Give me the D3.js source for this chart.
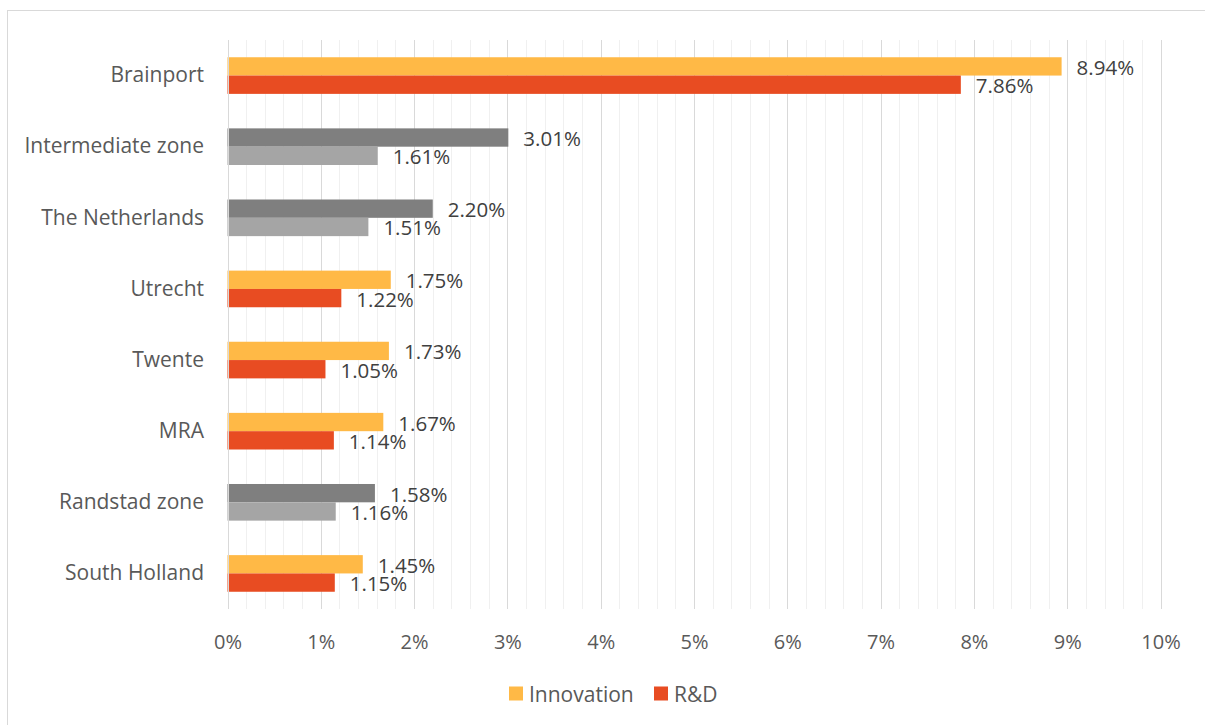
<!DOCTYPE html>
<html>
<head>
<meta charset="utf-8">
<script src="https://cdn.jsdelivr.net/npm/d3@7"></script>
<style>
  html, body { margin: 0; padding: 0; background: #fff; }
  svg { display: block; }
  text { font-family: "Open Sans", "Noto Sans", sans-serif; }
</style>
</head>
<body>
<svg id="chart" width="1205" height="725"></svg>
<script>
// Regions, top to bottom
const categories = ["Brainport", "Intermediate zone", "The Netherlands", "Utrecht",
                    "Twente", "MRA", "Randstad zone", "South Holland"];
// Share of firms (%) per region
const innovation = [8.94, 3.01, 2.20, 1.75, 1.73, 1.67, 1.58, 1.45];
const rnd        = [7.86, 1.61, 1.51, 1.22, 1.05, 1.14, 1.16, 1.15];
// Aggregate zones drawn in grey
const greyRegions = ["Intermediate zone", "The Netherlands", "Randstad zone"];
const seriesNames = ["Innovation", "R&D"];
const xTicks = [0, 1, 2, 3, 4, 5, 6, 7, 8, 9, 10];

const colors = {
  "Innovation": "#FFB946",
  "R&D": "#E84C22",
  greyInnovation: "#7F7F7F",
  greyRnd: "#A5A5A5"
};

const svg = d3.select("#chart");
const W = 1205, H = 725;
const margin = { left: 227.5, right: W - 1160.5, top: 40, bottom: H - 609 };

// Outer chart frame
svg.append("rect")
  .attr("x", 7.5).attr("y", 10.5)
  .attr("width", W + 10).attr("height", H + 10)
  .attr("fill", "none").attr("stroke", "#D9D9D9").attr("stroke-width", 1);

const x = d3.scaleLinear().domain([0, 10]).range([margin.left, W - margin.right]);
const y = d3.scaleBand().domain(categories).range([margin.top, H - margin.bottom]).paddingInner(0.485).paddingOuter(0.2425);
const sub = d3.scaleBand().domain(seriesNames).range([0, y.bandwidth()]);

const g = svg.append("g");

// Minor gridlines every 0.2%
const minor = d3.range(0, 10.001, 0.2).filter(v => Math.abs(v - Math.round(v)) > 1e-6);
g.selectAll("line.minor").data(minor).join("line")
  .attr("class", "minor")
  .attr("x1", d => Math.round(x(d)) + 0.5).attr("x2", d => Math.round(x(d)) + 0.5)
  .attr("y1", margin.top).attr("y2", H - margin.bottom)
  .attr("stroke", "#F0F0F0").attr("stroke-width", 1);

// Major gridlines at each whole percent
g.selectAll("line.major").data(xTicks).join("line")
  .attr("class", "major")
  .attr("x1", d => Math.round(x(d)) + 0.5).attr("x2", d => Math.round(x(d)) + 0.5)
  .attr("y1", margin.top).attr("y2", H - margin.bottom)
  .attr("stroke", "#D9D9D9").attr("stroke-width", 1);

const rows = categories.map((c, i) => ({ c, inn: innovation[i], rd: rnd[i], grey: greyRegions.includes(c) }));

const bars = [];
rows.forEach(r => {
  bars.push({ c: r.c, s: "Innovation", v: r.inn, fill: r.grey ? colors.greyInnovation : colors["Innovation"] });
  bars.push({ c: r.c, s: "R&D", v: r.rd, fill: r.grey ? colors.greyRnd : colors["R&D"] });
});

g.selectAll("rect.bar").data(bars).join("rect")
  .attr("class", "bar")
  .attr("x", x(0))
  .attr("y", d => y(d.c) + sub(d.s))
  .attr("width", d => x(d.v) - x(0))
  .attr("height", sub.bandwidth())
  .attr("fill", d => d.fill);

// Axis line at 0%
g.append("line")
  .attr("x1", Math.round(x(0)) + 0.5).attr("x2", Math.round(x(0)) + 0.5)
  .attr("y1", margin.top).attr("y2", H - margin.bottom)
  .attr("stroke", "#D9D9D9");

// Value labels
g.selectAll("text.val").data(bars).join("text")
  .attr("class", "val")
  .attr("x", d => x(d.v) + 15)
  .attr("y", d => y(d.c) + sub(d.s) + sub.bandwidth() / 2 + 0.5)
  .attr("dominant-baseline", "central")
  .attr("font-size", 20.5)
  .attr("fill", "#404040")
  .text(d => d.v.toFixed(2) + "%");

// Category axis
const yAxis = d3.axisLeft(y).tickSize(0).tickPadding(0);
svg.append("g")
  .attr("transform", `translate(204,0)`)
  .call(yAxis)
  .call(a => a.select(".domain").remove())
  .call(a => a.selectAll("text")
    .attr("font-size", 21)
    .attr("fill", "#595959")
    .attr("font-family", "'Open Sans', 'Noto Sans', sans-serif"));

// Percentage axis
const xAxis = d3.axisBottom(x).tickValues(xTicks).tickSize(0).tickPadding(0).tickFormat(d => d + "%");
svg.append("g")
  .attr("transform", `translate(0,641)`)
  .call(xAxis)
  .call(a => a.select(".domain").remove())
  .call(a => a.selectAll("text")
    .attr("dy", null)
    .attr("dominant-baseline", "central")
    .attr("font-size", 20)
    .attr("fill", "#595959")
    .attr("font-family", "'Open Sans', 'Noto Sans', sans-serif"));

// Legend
const legendItems = [
  { name: "Innovation", x: 509 },
  { name: "R&D", x: 654 }
];
const lg = svg.append("g");
legendItems.forEach(it => {
  lg.append("rect").attr("x", it.x).attr("y", 686.5).attr("width", 14).attr("height", 14)
    .attr("fill", colors[it.name]);
  lg.append("text").attr("x", it.x + 20).attr("y", 694)
    .attr("dominant-baseline", "central")
    .attr("font-size", 21).attr("fill", "#595959")
    .text(it.name);
});
</script>
</body>
</html>
